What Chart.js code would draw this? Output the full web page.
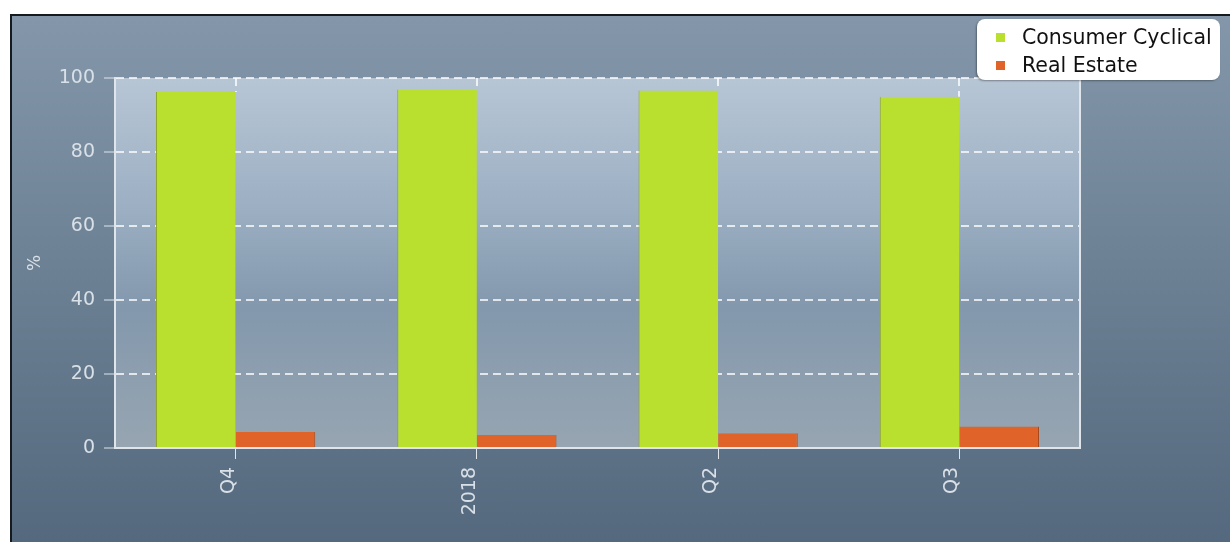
<!DOCTYPE html>
<html>
<head>
<meta charset="utf-8">
<script src="https://cdn.jsdelivr.net/npm/chart.js@4"></script>
<style>
  html, body { margin: 0; padding: 0; background: #fff; }
  #frame {
    position: absolute; left: 10px; top: 14px; width: 1220px; height: 528px;
    box-sizing: border-box; border-left: 2px solid #151a1f; border-top: 2px solid #151a1f;
    background: linear-gradient(to bottom, #8497aa 0%, #6e8296 45%, #55697e 100%);
  }
  #chart { position: absolute; left: 0; top: 0; }
  #legend {
    position: absolute; left: 977px; top: 19px; width: 243px; height: 61px;
    background: #fff; border-radius: 8px; box-shadow: -1px 1px 2px rgba(0,0,0,0.35);
    font-family: "DejaVu Sans", Verdana, sans-serif; font-size: 20.5px; color: #111;
  }
  .item { position: absolute; left: 0; height: 24px; line-height: 24px; white-space: nowrap; }
  .sw { position: absolute; left: 19px; top: 8px; width: 9px; height: 9px; }
  .lbl { position: absolute; left: 45px; top: 0; }
</style>
</head>
<body>
<div id="frame"><canvas id="chart" width="1218" height="526"></canvas></div>
<div id="legend"></div>
<script>
const categories = ['Q4', '2018', 'Q2', 'Q3'];
const consumerCyclical = [96.2, 96.9, 96.6, 94.9];
const realEstate = [4.3, 3.5, 4.0, 5.8];
const seriesNames = ['Consumer Cyclical', 'Real Estate'];
const seriesColors = ['#b9e02e', '#e0642a'];
const yTicks = [0, 20, 40, 60, 80, 100];

const textColor = '#d9e0e7';
const gridColor = 'rgba(255,255,255,0.75)';
const font = { family: '"DejaVu Sans", Verdana, sans-serif', size: 19 };

const plotBg = {
  id: 'plotBg',
  beforeDraw(chart) {
    const { ctx, chartArea: a } = chart;
    const g = ctx.createLinearGradient(0, a.top, 0, a.bottom);
    g.addColorStop(0, '#b7c6d5');
    g.addColorStop(0.35, '#9cafc3');
    g.addColorStop(0.62, '#8398ad');
    g.addColorStop(1, '#97a5b1');
    ctx.save();
    ctx.fillStyle = g;
    ctx.fillRect(a.left, a.top, a.right - a.left, a.bottom - a.top);
    ctx.restore();
  },
  beforeDatasetsDraw(chart) {
    // vertical dashed grid lines at category centres (hidden behind bars)
    const { ctx, chartArea: a, scales } = chart;
    ctx.save();
    ctx.strokeStyle = gridColor;
    ctx.lineWidth = 2;
    ctx.setLineDash([8, 5]);
    categories.forEach((c, i) => {
      const x = Math.round(scales.x.getPixelForTick(i));
      const yTop = scales.y.getPixelForValue(Math.max(consumerCyclical[i], realEstate[i]));
      ctx.beginPath();
      ctx.moveTo(x, a.top);
      ctx.lineTo(x, yTop);
      ctx.stroke();
    });
    ctx.restore();
  },
  afterDraw(chart) {
    const { ctx, chartArea: a } = chart;
    ctx.save();
    ctx.strokeStyle = '#dfe5eb';
    ctx.lineWidth = 2;
    ctx.beginPath();
    ctx.moveTo(a.right, a.top);
    ctx.lineTo(a.right, a.bottom);
    ctx.stroke();
    ctx.restore();
  }
};

new Chart(document.getElementById('chart'), {
  type: 'bar',
  data: {
    labels: categories,
    datasets: [
      { label: seriesNames[0], data: consumerCyclical, backgroundColor: seriesColors[0],
        borderColor: '#8ea524', borderWidth: { left: 1, right: 0, top: 0, bottom: 0 } },
      { label: seriesNames[1], data: realEstate, backgroundColor: seriesColors[1],
        borderColor: '#a8481c', borderWidth: { left: 0, right: 1, top: 0, bottom: 0 } }
    ]
  },
  options: {
    responsive: false,
    animation: false,
    categoryPercentage: 0.66,
    barPercentage: 1,
    layout: { padding: { top: 62, right: 150, left: 0, bottom: 0 } },
    plugins: { legend: { display: false }, tooltip: { enabled: false } },
    scales: {
      x: {
        offset: true,
        grid: { offset: false, drawOnChartArea: false, color: gridColor, tickLength: 11, tickColor: '#dfe5eb', tickWidth: 1 },
        border: { display: true, color: '#dfe5eb', width: 2 },
        ticks: { color: textColor, font, minRotation: 90, maxRotation: 90, padding: 8, labelOffset: -7 },
        afterFit(s) { s.height = 94; }
      },
      y: {
        min: 0, max: 100,
        afterBuildTicks(s) { s.ticks = yTicks.map(v => ({ value: v })); },
        grid: { color: gridColor, lineWidth: 2, tickLength: 11, tickColor: '#dfe5eb', tickWidth: 1 },
        border: { display: true, color: '#dfe5eb', width: 2, dash: [8, 5] },
        ticks: { color: textColor, font, padding: 9 },
        title: { display: true, text: '%', color: textColor, font: { family: font.family, size: 17 }, padding: { top: 13, bottom: 0 } },
        afterFit(s) { s.width = 103; }
      }
    }
  },
  plugins: [plotBg]
});

const legend = document.getElementById('legend');
seriesNames.forEach((name, i) => {
  const it = document.createElement('div');
  it.className = 'item';
  it.style.top = (6 + i * 28) + 'px';
  const sw = document.createElement('span');
  sw.className = 'sw';
  sw.style.background = seriesColors[i];
  const lb = document.createElement('span');
  lb.className = 'lbl';
  lb.textContent = name;
  it.appendChild(sw); it.appendChild(lb);
  legend.appendChild(it);
});
</script>
</body>
</html>
